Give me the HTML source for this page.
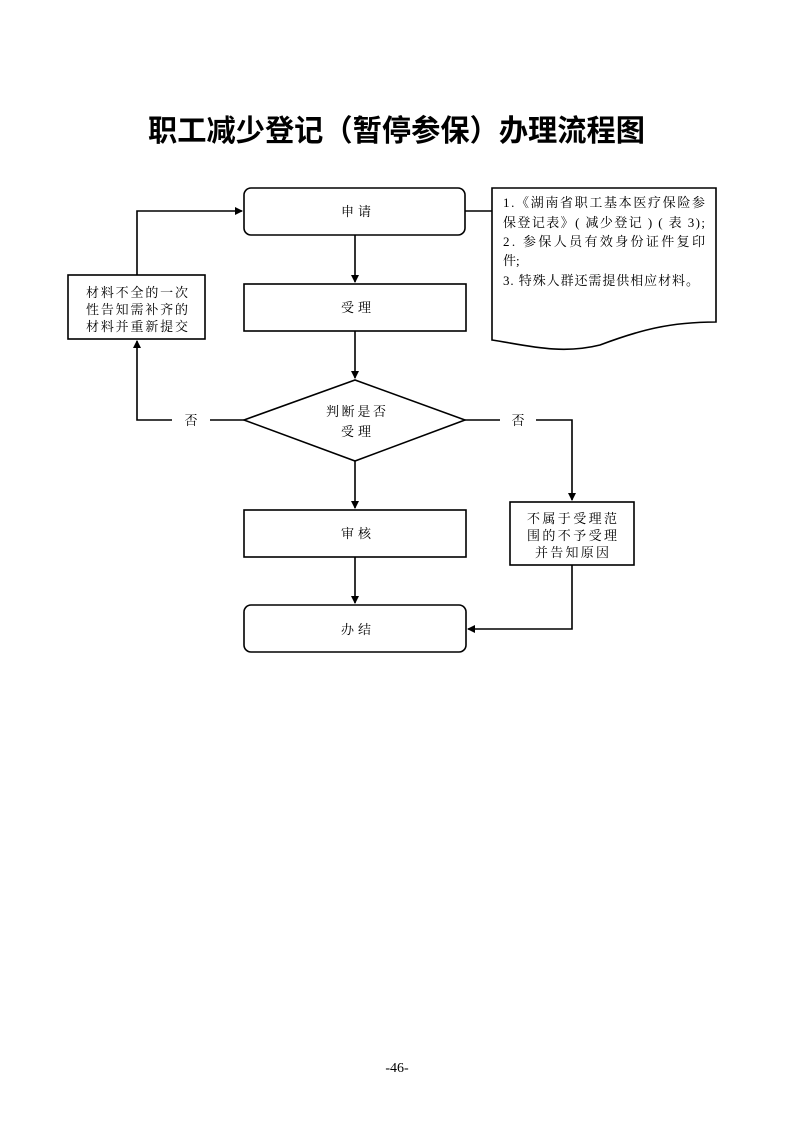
<!DOCTYPE html>
<html><head><meta charset="utf-8"><style>
body{margin:0;background:#fff;}
svg text{font-family:"Liberation Serif","Noto Serif CJK SC",serif;fill:#000;}
</style></head><body>
<svg width="793" height="1122" viewBox="0 0 793 1122" xmlns="http://www.w3.org/2000/svg">
<defs><marker id="a" markerWidth="8" markerHeight="8" refX="7" refY="4" orient="auto" markerUnits="userSpaceOnUse"><path d="M0,0 L8,4 L0,8 Z" fill="#000"/></marker></defs>
<text x="148" y="141" font-size="30" font-weight="bold" textLength="497" lengthAdjust="spacingAndGlyphs" style="font-family:'Liberation Sans','Noto Sans CJK SC',sans-serif">职工减少登记（暂停参保）办理流程图</text>
<g fill="none" stroke="#000" stroke-width="1.6">
<rect x="244" y="188" width="221" height="47" rx="7"/>
<rect x="244" y="284" width="222" height="47"/>
<path d="M244,420 L355,380 L465,420 L355,461 Z"/>
<rect x="244" y="510" width="222" height="47"/>
<rect x="244" y="605" width="222" height="47" rx="7"/>
<rect x="68" y="275" width="137" height="64"/>
<rect x="510" y="502" width="124" height="63"/>
<path d="M492,188 L716,188 L716,322 C670,322 640,330 600,345 C560,355 525,345 492,340 Z"/>
<path d="M465,211 L492,211"/>
<path d="M355,235 L355,282" marker-end="url(#a)"/>
<path d="M355,331 L355,378" marker-end="url(#a)"/>
<path d="M355,461 L355,508" marker-end="url(#a)"/>
<path d="M355,557 L355,603" marker-end="url(#a)"/>
<path d="M244,420 L210,420 M172,420 L137,420 L137,341" marker-end="url(#a)"/>
<path d="M137,275 L137,211 L242,211" marker-end="url(#a)"/>
<path d="M465,420 L500,420 M536,420 L572,420 L572,500" marker-end="url(#a)"/>
<path d="M572,565 L572,629 L468,629" marker-end="url(#a)"/>
</g>
<g font-size="13">
<text x="341" y="216" textLength="30">申请</text>
<text x="341" y="312" textLength="30">受理</text>
<text x="326" y="416" textLength="60">判断是否</text>
<text x="341" y="436" textLength="30">受理</text>
<text x="341" y="538" textLength="30">审核</text>
<text x="341" y="634" textLength="30">办结</text>
<text x="191" y="425" text-anchor="middle">否</text>
<text x="518" y="425" text-anchor="middle">否</text>
<text x="86" y="297" textLength="102">材料不全的一次</text>
<text x="86" y="314" textLength="102">性告知需补齐的</text>
<text x="86" y="331" textLength="102">材料并重新提交</text>
<text x="527" y="523" textLength="90">不属于受理范</text>
<text x="527" y="540" textLength="90">围的不予受理</text>
<text x="535" y="557" textLength="74">并告知原因</text>
<text x="503" y="207" textLength="202">1.《湖南省职工基本医疗保险参</text>
<text x="503" y="227" textLength="202">保登记表》( 减少登记 ) ( 表 3);</text>
<text x="503" y="246" textLength="202">2. 参保人员有效身份证件复印</text>
<text x="503" y="265">件;</text>
<text x="503" y="285" textLength="196">3. 特殊人群还需提供相应材料。</text>
<text x="397" y="1072" text-anchor="middle" font-size="14">-46-</text>
</g>
</svg>
</body></html>
